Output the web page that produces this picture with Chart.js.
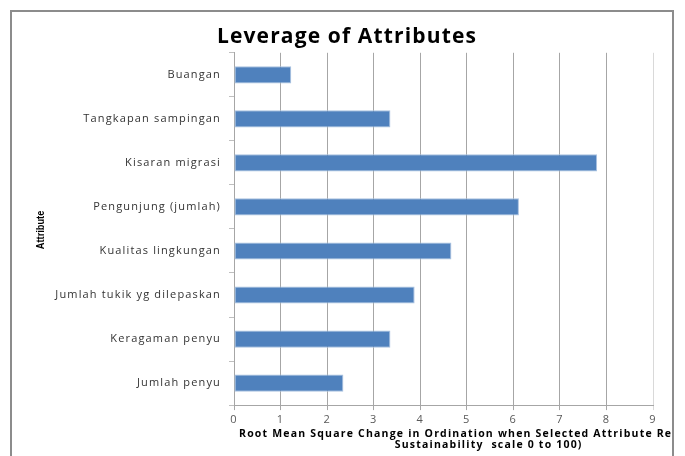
<!DOCTYPE html>
<html lang="id">
<head>
    <meta charset="UTF-8">
    <title>Leverage of Attributes</title>
    <script src="https://cdn.jsdelivr.net/npm/chart.js"></script>
    <style>
        body {
            margin: 0;
            background: #ffffff;
            width: 685px;
            height: 456px;
            overflow: hidden;
        }
        #frame {
            position: absolute;
            left: 10px;
            top: 10px;
            width: 660px;
            height: 470px;
            border: 2px solid #8c8c8c;
            border-bottom: none;
            overflow: hidden;
        }
        #leverageChart {
            position: absolute;
            left: -12px;
            top: -12px;
        }
    </style>
</head>
<body>
    <div id="frame">
        <canvas id="leverageChart" width="685" height="456"></canvas>
    </div>

    <script>
        // Data
        const attributes = [
            'Buangan',
            'Tangkapan sampingan',
            'Kisaran migrasi',
            'Pengunjung (jumlah)',
            'Kualitas lingkungan',
            'Jumlah tukik yg dilepaskan',
            'Keragaman penyu',
            'Jumlah penyu'
        ];
        const rmsChange = [1.23, 3.36, 7.80, 6.12, 4.67, 3.88, 3.36, 2.35];

        const xMin = 0;
        const xMax = 9;
        const xStep = 1;

        const chartTitle = 'Leverage of Attributes';
        const yTitle = 'Attribute';
        const xTitle = [
            'Root Mean Square Change in Ordination when Selected Attribute Removed (on',
            'Sustainability  scale 0 to 100)'
        ];

        // the original picture is stretched sideways, so text gets extra letter spacing
        const textPlugin = {
            id: 'axisText',
            beforeDraw(chart) {
                chart.ctx.letterSpacing = '1.15px';
            },
            afterDraw(chart) {
                const { ctx, chartArea } = chart;

                // x title: line 1 starts at the plot's left edge and runs off the border
                ctx.save();
                ctx.letterSpacing = '1.2px';
                ctx.font = 'bold 10.5px "Open Sans"';
                ctx.fillStyle = '#000000';
                ctx.textAlign = 'center';
                ctx.textBaseline = 'middle';
                const w = ctx.measureText(xTitle[0]).width;
                const cx = chartArea.left + 5 + w / 2;
                const y = chartArea.bottom + 28.5;
                xTitle.forEach((line, i) => ctx.fillText(line, cx, y + i * 11.5));
                ctx.restore();

                // y title: narrow bold text, rotated
                ctx.save();
                ctx.letterSpacing = '0px';
                ctx.translate(41, (chartArea.top + chartArea.bottom) / 2 + 1);
                ctx.rotate(-Math.PI / 2);
                ctx.scale(0.88, 1);
                ctx.font = 'bold 10.5px "Liberation Sans"';
                ctx.fillStyle = '#000000';
                ctx.textAlign = 'center';
                ctx.textBaseline = 'middle';
                ctx.fillText(yTitle, 0, 0);
                ctx.restore();
            }
        };

        const ctx = document.getElementById('leverageChart').getContext('2d');
        const leverageChart = new Chart(ctx, {
            type: 'bar',
            data: {
                labels: attributes,
                datasets: [{
                    label: 'RMS',
                    data: rmsChange,
                    backgroundColor: '#4f81bd',
                    borderColor: '#a9c1e0',
                    borderWidth: 1,
                    borderSkipped: false,
                    categoryPercentage: 1,
                    barPercentage: 0.39
                }]
            },
            options: {
                indexAxis: 'y',
                responsive: false,
                animation: false,
                layout: {
                    padding: { left: 41, right: 32, top: 15, bottom: 26.7 }
                },
                plugins: {
                    legend: { display: false },
                    tooltip: { enabled: false },
                    title: {
                        display: true,
                        text: chartTitle,
                        color: '#000000',
                        font: { family: '"Open Sans"', size: 21, weight: 'bold' },
                        padding: { top: 9.9, bottom: 2.7 }
                    }
                },
                scales: {
                    x: {
                        min: xMin,
                        max: xMax,
                        ticks: {
                            stepSize: xStep,
                            color: '#595959',
                            padding: 3,
                            font: { family: '"Open Sans"', size: 11 }
                        },
                        grid: {
                            color: (c) => c.tick && c.tick.value === xMax ? '#d9d9d9' : '#a6a6a6',
                            tickLength: 5
                        },
                        border: { display: true, color: '#a6a6a6' }
                    },
                    y: {
                        ticks: {
                            color: '#333333',
                            padding: 8,
                            font: { family: '"Open Sans"', size: 11 }
                        },
                        grid: {
                            drawOnChartArea: false,
                            color: '#bfbfbf',
                            tickLength: 5
                        },
                        border: { display: true, color: '#a6a6a6' },
                        afterFit(scale) {
                            scale.width = 234 - 41;
                        }
                    }
                }
            },
            plugins: [textPlugin]
        });
    </script>
</body>
</html>
